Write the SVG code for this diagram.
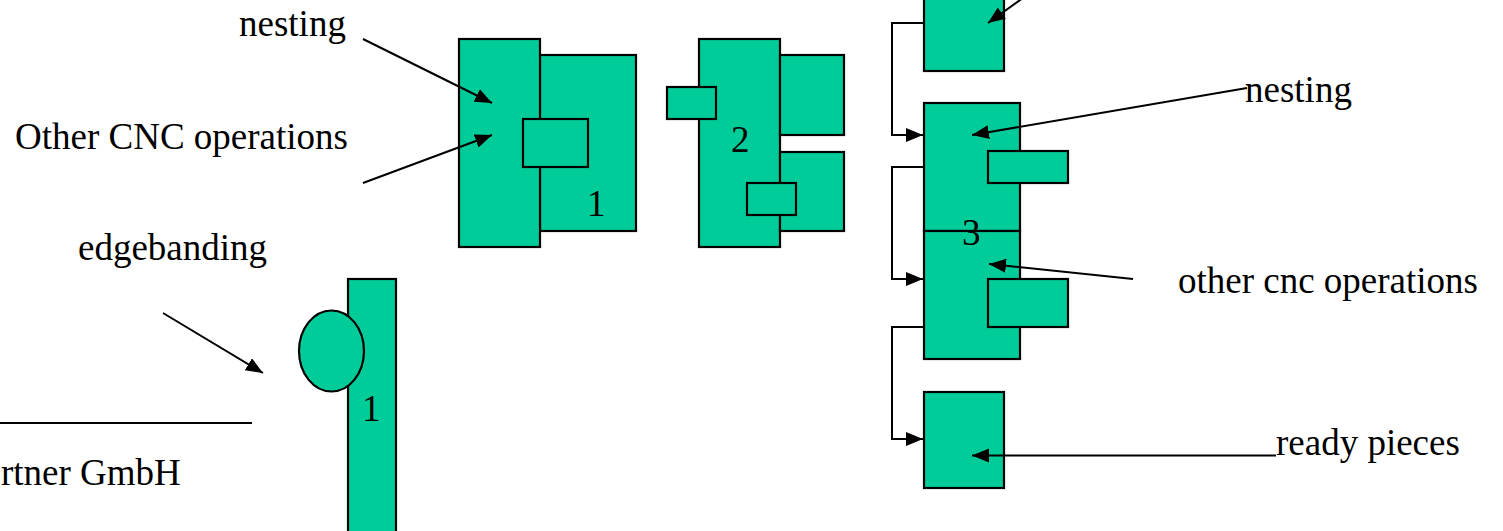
<svg xmlns="http://www.w3.org/2000/svg" width="1503" height="531" viewBox="0 0 1503 531">
<style>
.m{fill:#00CC99;stroke:#000;stroke-width:2.2}
.t{font-family:"Liberation Serif","Times New Roman",serif;font-size:37px;fill:#000}
.c{fill:none;stroke:#000;stroke-width:2}
</style>
<defs>
<marker id="ah" markerUnits="userSpaceOnUse" markerWidth="20" markerHeight="16" refX="17" refY="7" orient="auto">
<path d="M0,0 L17,7 L0,14 Z" fill="#000"/>
</marker>
</defs>
<rect width="1503" height="531" fill="#fff"/>
<g id="machine1">
<rect class="m" x="540" y="55" width="96" height="176"/>
<rect class="m" x="459" y="39" width="81" height="208"/>
<rect class="m" x="523" y="119" width="65" height="48"/>
<text class="t" x="587" y="216">1</text>
</g>
<g id="machine2">
<rect class="m" x="699" y="39" width="81" height="208"/>
<rect class="m" x="780" y="55" width="64" height="80"/>
<rect class="m" x="780" y="152" width="64" height="79"/>
<rect class="m" x="667" y="87" width="49" height="32"/>
<rect class="m" x="747" y="183" width="49" height="32"/>
<text class="t" x="731" y="152">2</text>
</g>
<g id="edgebander">
<rect class="m" x="348" y="279" width="48" height="262"/>
<ellipse class="m" cx="331.5" cy="351" rx="32.5" ry="40.5"/>
<text class="t" x="362" y="421">1</text>
</g>
<g id="machine3-top">
<rect class="m" x="924" y="-20" width="80" height="91"/>
</g>
<g id="machine3">
<rect class="m" x="924" y="103" width="96" height="128"/>
<rect class="m" x="924" y="231" width="96" height="128"/>
<rect class="m" x="988" y="151" width="80" height="32"/>
<rect class="m" x="988" y="279" width="80" height="48"/>
<text class="t" x="962" y="245">3</text>
</g>
<g id="ready-pieces-box">
<rect class="m" x="924" y="392" width="80" height="96"/>
</g>
<g id="labels">
<text class="t" x="239" y="36">nesting</text>
<text class="t" x="15" y="149">Other CNC operations</text>
<text class="t" x="78" y="260">edgebanding</text>
<text class="t" x="1" y="485">rtner GmbH</text>
<text class="t" x="1245" y="102">nesting</text>
<text class="t" x="1178" y="293">other cnc operations</text>
<text class="t" x="1276" y="455">ready pieces</text>
</g>
<g id="connectors">
<line class="c" x1="0" y1="423" x2="252" y2="423"/>
<line class="c" x1="363" y1="39" x2="492" y2="103" marker-end="url(#ah)"/>
<line class="c" x1="363" y1="183" x2="492" y2="135" marker-end="url(#ah)"/>
<line class="c" x1="163" y1="313" x2="263" y2="373" marker-end="url(#ah)"/>
<line class="c" x1="1048" y1="-20" x2="988" y2="23" marker-end="url(#ah)"/>
<line class="c" x1="1247" y1="88" x2="972" y2="135" marker-end="url(#ah)"/>
<line class="c" x1="1133" y1="279" x2="989" y2="264" marker-end="url(#ah)"/>
<line class="c" x1="1276" y1="455.5" x2="972" y2="455.5" marker-end="url(#ah)"/>
<polyline class="c" points="924,23 892,23 892,135 923,135" marker-end="url(#ah)"/>
<polyline class="c" points="924,167 892,167 892,279 923,279" marker-end="url(#ah)"/>
<polyline class="c" points="924,327 892,327 892,439 923,439" marker-end="url(#ah)"/>
</g>
</svg>
